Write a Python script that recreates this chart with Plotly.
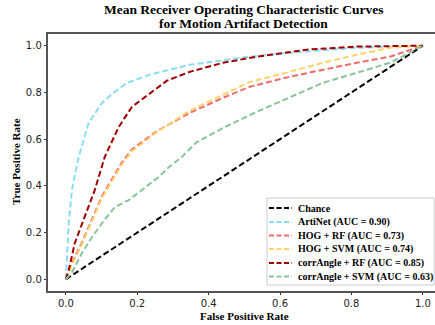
import plotly.graph_objects as go

chance_fpr = [0.0, 1.0]
chance_tpr = [0.0, 1.0]

artinet_fpr = [0.0, 0.003, 0.008, 0.017, 0.036, 0.064, 0.101, 0.137, 0.171, 0.235, 0.347, 0.487, 0.627, 0.815, 1.0]
artinet_tpr = [0.0, 0.094, 0.24, 0.382, 0.524, 0.67, 0.755, 0.803, 0.84, 0.876, 0.918, 0.948, 0.97, 0.991, 1.0]

hog_fpr = [0.0, 0.017, 0.045, 0.073, 0.101, 0.129, 0.157, 0.185, 0.213, 0.249, 0.297, 0.347, 0.44, 0.515, 0.627, 0.72, 0.815, 0.908, 1.0]
hogrf_tpr = [0.0, 0.069, 0.158, 0.256, 0.355, 0.428, 0.5, 0.556, 0.586, 0.628, 0.67, 0.712, 0.777, 0.824, 0.867, 0.897, 0.927, 0.953, 1.0]
hogsvm_tpr = [0.0, 0.062, 0.15, 0.248, 0.347, 0.42, 0.492, 0.549, 0.58, 0.624, 0.672, 0.722, 0.79, 0.845, 0.888, 0.927, 0.961, 0.991, 1.0]

carf_fpr = [0.0, 0.008, 0.025, 0.053, 0.081, 0.109, 0.148, 0.185, 0.241, 0.283, 0.347, 0.44, 0.535, 0.675, 0.815, 1.0]
carf_tpr = [0.0, 0.039, 0.155, 0.266, 0.382, 0.524, 0.652, 0.738, 0.803, 0.85, 0.888, 0.927, 0.953, 0.983, 0.996, 1.0]

casvm_fpr = [0.0, 0.017, 0.045, 0.073, 0.101, 0.137, 0.176, 0.213, 0.26, 0.289, 0.325, 0.365, 0.44, 0.535, 0.627, 0.72, 0.815, 0.908, 1.0]
casvm_tpr = [0.0, 0.03, 0.112, 0.18, 0.24, 0.309, 0.339, 0.382, 0.438, 0.481, 0.524, 0.585, 0.648, 0.717, 0.777, 0.841, 0.884, 0.927, 1.0]

names = ["Chance", "ArtiNet (AUC = 0.90)", "HOG + RF (AUC = 0.73)", "HOG + SVM (AUC = 0.74)",
         "corrAngle + RF (AUC = 0.85)", "corrAngle + SVM (AUC = 0.63)"]
colors = ["#000000", "#8ADCF2", "#F26B6B", "#FFD26B", "#A00000", "#88C499"]
xs = [chance_fpr, artinet_fpr, hog_fpr, hog_fpr, carf_fpr, casvm_fpr]
ys = [chance_tpr, artinet_tpr, hogrf_tpr, hogsvm_tpr, carf_tpr, casvm_tpr]

title_lines = ["Mean Receiver Operating Characteristic Curves", "for Motion Artifact Detection"]
x_title = "False Positive Rate"
y_title = "True Positive Rate"
ticks = [0.0, 0.2, 0.4, 0.6, 0.8, 1.0]

W, H = 435, 325
ML, MR, MT, MB = 48, 0, 34, 34
PW, PH = W - ML - MR, H - MT - MB
DASH = "6px,3px"
SERIF = "Liberation Serif"

def px2x(px):
    return (px - ML) / PW

def px2y(py):
    return (H - MB - py) / PH

fig = go.Figure()
for name, x, y, c in zip(names, xs, ys, colors):
    fig.add_trace(go.Scatter(x=x, y=y, mode="lines", name=name, showlegend=False,
                             line=dict(color=c, width=2, dash=DASH)))

# compact legend box like the reference
shapes = [dict(type="rect", xref="paper", yref="paper",
               x0=px2x(267), x1=px2x(434), y0=px2y(285), y1=px2y(198),
               line=dict(color="#CCCCCC", width=1), fillcolor="white", layer="above")]
annotations = []
row_y = [208, 222, 235.5, 249, 263, 276.5]
for name, c, ry in zip(names, colors, row_y):
    shapes.append(dict(type="line", xref="paper", yref="paper",
                       x0=px2x(269), x1=px2x(292), y0=px2y(ry), y1=px2y(ry),
                       line=dict(color=c, width=2, dash="5px,2.5px"), layer="above"))
    annotations.append(dict(text="<b>%s</b>" % name, xref="paper", yref="paper",
                            x=px2x(297), y=px2y(ry), xanchor="left", yanchor="middle",
                            showarrow=False, borderpad=0,
                            font=dict(family=SERIF, size=10, color="#000000")))

for line, cy in zip(title_lines, [9.5, 23.5]):
    annotations.append(dict(text="<b>%s</b>" % line, xref="paper", yref="paper",
                            x=px2x(243), y=px2y(cy), xanchor="center", yanchor="middle",
                            showarrow=False, borderpad=0,
                            font=dict(family=SERIF, size=13.5, color="#000000")))

annotations.append(dict(text="<b>%s</b>" % x_title, xref="paper", yref="paper",
                        x=px2x(244), y=px2y(315.5), xanchor="center", yanchor="middle",
                        showarrow=False, borderpad=0,
                        font=dict(family=SERIF, size=11, color="#000000")))
annotations.append(dict(text="<b>%s</b>" % y_title, xref="paper", yref="paper",
                        x=px2x(16), y=px2y(162), xanchor="center", yanchor="middle",
                        textangle=-90, showarrow=False, borderpad=0,
                        font=dict(family=SERIF, size=11, color="#000000")))

axis_common = dict(
    showgrid=False, zeroline=False, showline=True, linecolor="#555555", linewidth=1.5,
    ticks="outside", ticklen=2.5, tickcolor="#333333", tickvals=ticks, tickformat=".1f",
    tickfont=dict(family="DejaVu Sans", size=10, color="#222222"),
)
fig.update_layout(
    width=W, height=H,
    margin=dict(l=ML, r=MR, t=MT, b=MB),
    plot_bgcolor="white", paper_bgcolor="white",
    xaxis=dict(range=[-0.05, 1.034], mirror=True, **axis_common),
    yaxis=dict(range=[-0.05, 1.05], mirror=False, **axis_common),
    shapes=shapes,
    annotations=annotations,
    showlegend=False,
)
fig.write_html("out.html", config={"displayModeBar": False},
               post_script="document.body.style.margin='0';document.body.style.overflow='hidden';")
